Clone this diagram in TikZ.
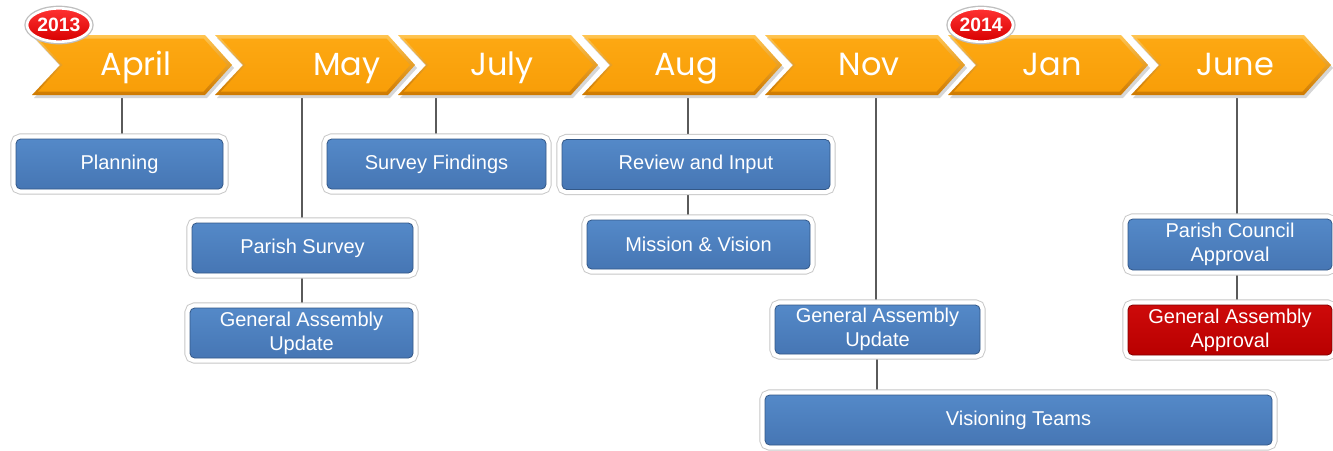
\documentclass[tikz,border=0pt]{standalone}
\usepackage{fontspec}
\setmainfont{Liberation Sans}
\newfontfamily\monthfont{Poppins}
\usetikzlibrary{shapes.geometric}
\pgfdeclarelayer{bg}
\pgfdeclarelayer{lines}
\pgfsetlayers{bg,lines,main}
\definecolor{boxtop}{RGB}{84,137,200}
\definecolor{boxbot}{RGB}{70,118,180}
\definecolor{boxedge}{RGB}{52,88,135}
\definecolor{redtop}{RGB}{205,10,10}
\definecolor{redbot}{RGB}{185,0,0}
\definecolor{rededge}{RGB}{130,0,0}
\definecolor{orgtop}{RGB}{255,196,80}
\definecolor{orgbot}{RGB}{206,122,0}
\definecolor{orgin}{RGB}{253,168,18}
\definecolor{orgin2}{RGB}{248,158,8}
\definecolor{badgetop}{RGB}{255,50,50}
\definecolor{badgebot}{RGB}{215,0,0}
\definecolor{conncol}{RGB}{90,90,90}
\tikzset{
  tbox/.style={rectangle, rounded corners=3.5pt, minimum height=37.5pt, inner sep=0pt,
    text=white, align=center, font=\fontsize{15}{18}\selectfont,
    top color=boxtop, bottom color=boxbot, draw=boxedge, line width=0.6pt,
    preaction={draw=black!22, line width=8.4pt},
    preaction={draw=white, line width=7pt}},
  rbox/.style={tbox, top color=redtop, bottom color=redbot, draw=rededge},
  month/.style={anchor=base, text=white, font=\monthfont\fontsize{24}{28}\selectfont, inner sep=0pt},
  badge/.style={ellipse, minimum width=48pt, minimum height=25pt, inner sep=0pt,
    top color=badgetop, bottom color=badgebot, draw=white, line width=2pt,
    preaction={draw=black!25, line width=4pt},
    text=white, font=\bfseries\fontsize{14.5}{16}\selectfont},
  conn/.style={draw=conncol, line width=0.8pt}
}
\begin{document}
\begin{tikzpicture}[x=0.75pt,y=-0.75pt]
\begin{pgfonlayer}{bg}
\fill[white] (0,0) rectangle (1333,450);
\end{pgfonlayer}
\useasboundingbox (0,0) rectangle (1333,450);
% chevron shadows
\foreach \x in {32,215,398,582,765,948,1131}{
  \fill[black!16] ([shift={(2,3)}]\x,35) -- ++(173,0) -- ++(27,30) -- ++(-27,30) -- ++(-173,0) -- ++(28,-30) -- cycle;
}
% chevrons
\foreach \x in {32,215,398,582,765,948,1131}{
  \shade[top color=orgtop, bottom color=orgbot] (\x,35) -- ++(173,0) -- ++(27,30) -- ++(-27,30) -- ++(-173,0) -- ++(28,-30) -- cycle;
  \shade[top color=orgin, bottom color=orgin2] (\x+6,38.5) -- (\x+171.5,38.5) -- (\x+195,65) -- (\x+171.5,91.5) -- (\x+6,91.5) -- (\x+30.5,65) -- cycle;
}
% month labels
\node[month] (april) at (136,75) {April};
\node[month] (may)   at (347,75) {May};
\node[month] (july)  at (502,75) {July};
\node[month] (aug)   at (686,75) {Aug};
\node[month] (nov)   at (869,75) {Nov};
\node[month] (jan)   at (1052,75) {Jan};
\node[month] (june)  at (1235,75) {June};
% badges
\node[badge] (y2013) at (59,25) {2013};
\node[badge] (y2014) at (981,25) {2014};
% connector anchors on chevron bottoms
\coordinate (cA) at (122,95);
\coordinate (cM) at (302,95);
\coordinate (cJ) at (436,95);
\coordinate (cG) at (688,95);
\coordinate (cN) at (876,95);
\coordinate (cU) at (1237,95);
% boxes
\node[tbox, minimum width=155.25pt] (planning) at (119.5,164) {Planning};
\node[tbox, minimum width=164.25pt] (survey)   at (436.5,164) {Survey Findings};
\node[tbox, minimum width=201pt]    (review)   at (696,164.5) {Review and Input};
\node[tbox, minimum width=167.25pt, minimum height=36.75pt] (mission) at (698.5,244.5) {Mission \& Vision};
\node[tbox, minimum width=165.75pt] (psurvey)  at (302.5,248) {Parish Survey};
\node[tbox, minimum width=167.25pt] (gau1)     at (301.5,333) {General Assembly\\Update};
\node[tbox, minimum width=153.75pt, minimum height=36.75pt] (gau2) at (877.5,329.5) {General Assembly\\Update};
\node[tbox, minimum width=380.25pt] (vision)   at (1018.5,420) {Visioning Teams};
\node[tbox, minimum width=153pt, minimum height=38.25pt] (pca) at (1230,244.5) {Parish Council\\Approval};
\node[rbox, minimum width=153pt]    (gaa)      at (1230,330) {General Assembly\\Approval};
% connectors
\begin{pgfonlayer}{lines}
\draw[conn] (cA) -- (cA |- planning.north);
\draw[conn] (cM) -- (cM |- psurvey.north);
\draw[conn] (cM |- psurvey.south) -- (cM |- gau1.north);
\draw[conn] (cJ) -- (cJ |- survey.north);
\draw[conn] (cG) -- (cG |- review.north);
\draw[conn] (cG |- review.south) -- (cG |- mission.north);
\draw[conn] (cN) -- (cN |- gau2.north);
\draw[conn] ([xshift=0.75pt]cN |- gau2.south) -- ([xshift=0.75pt]cN |- vision.north);
\draw[conn] (cU) -- (cU |- pca.north);
\draw[conn] (cU |- pca.south) -- (cU |- gaa.north);
\end{pgfonlayer}
\end{tikzpicture}
\end{document}
